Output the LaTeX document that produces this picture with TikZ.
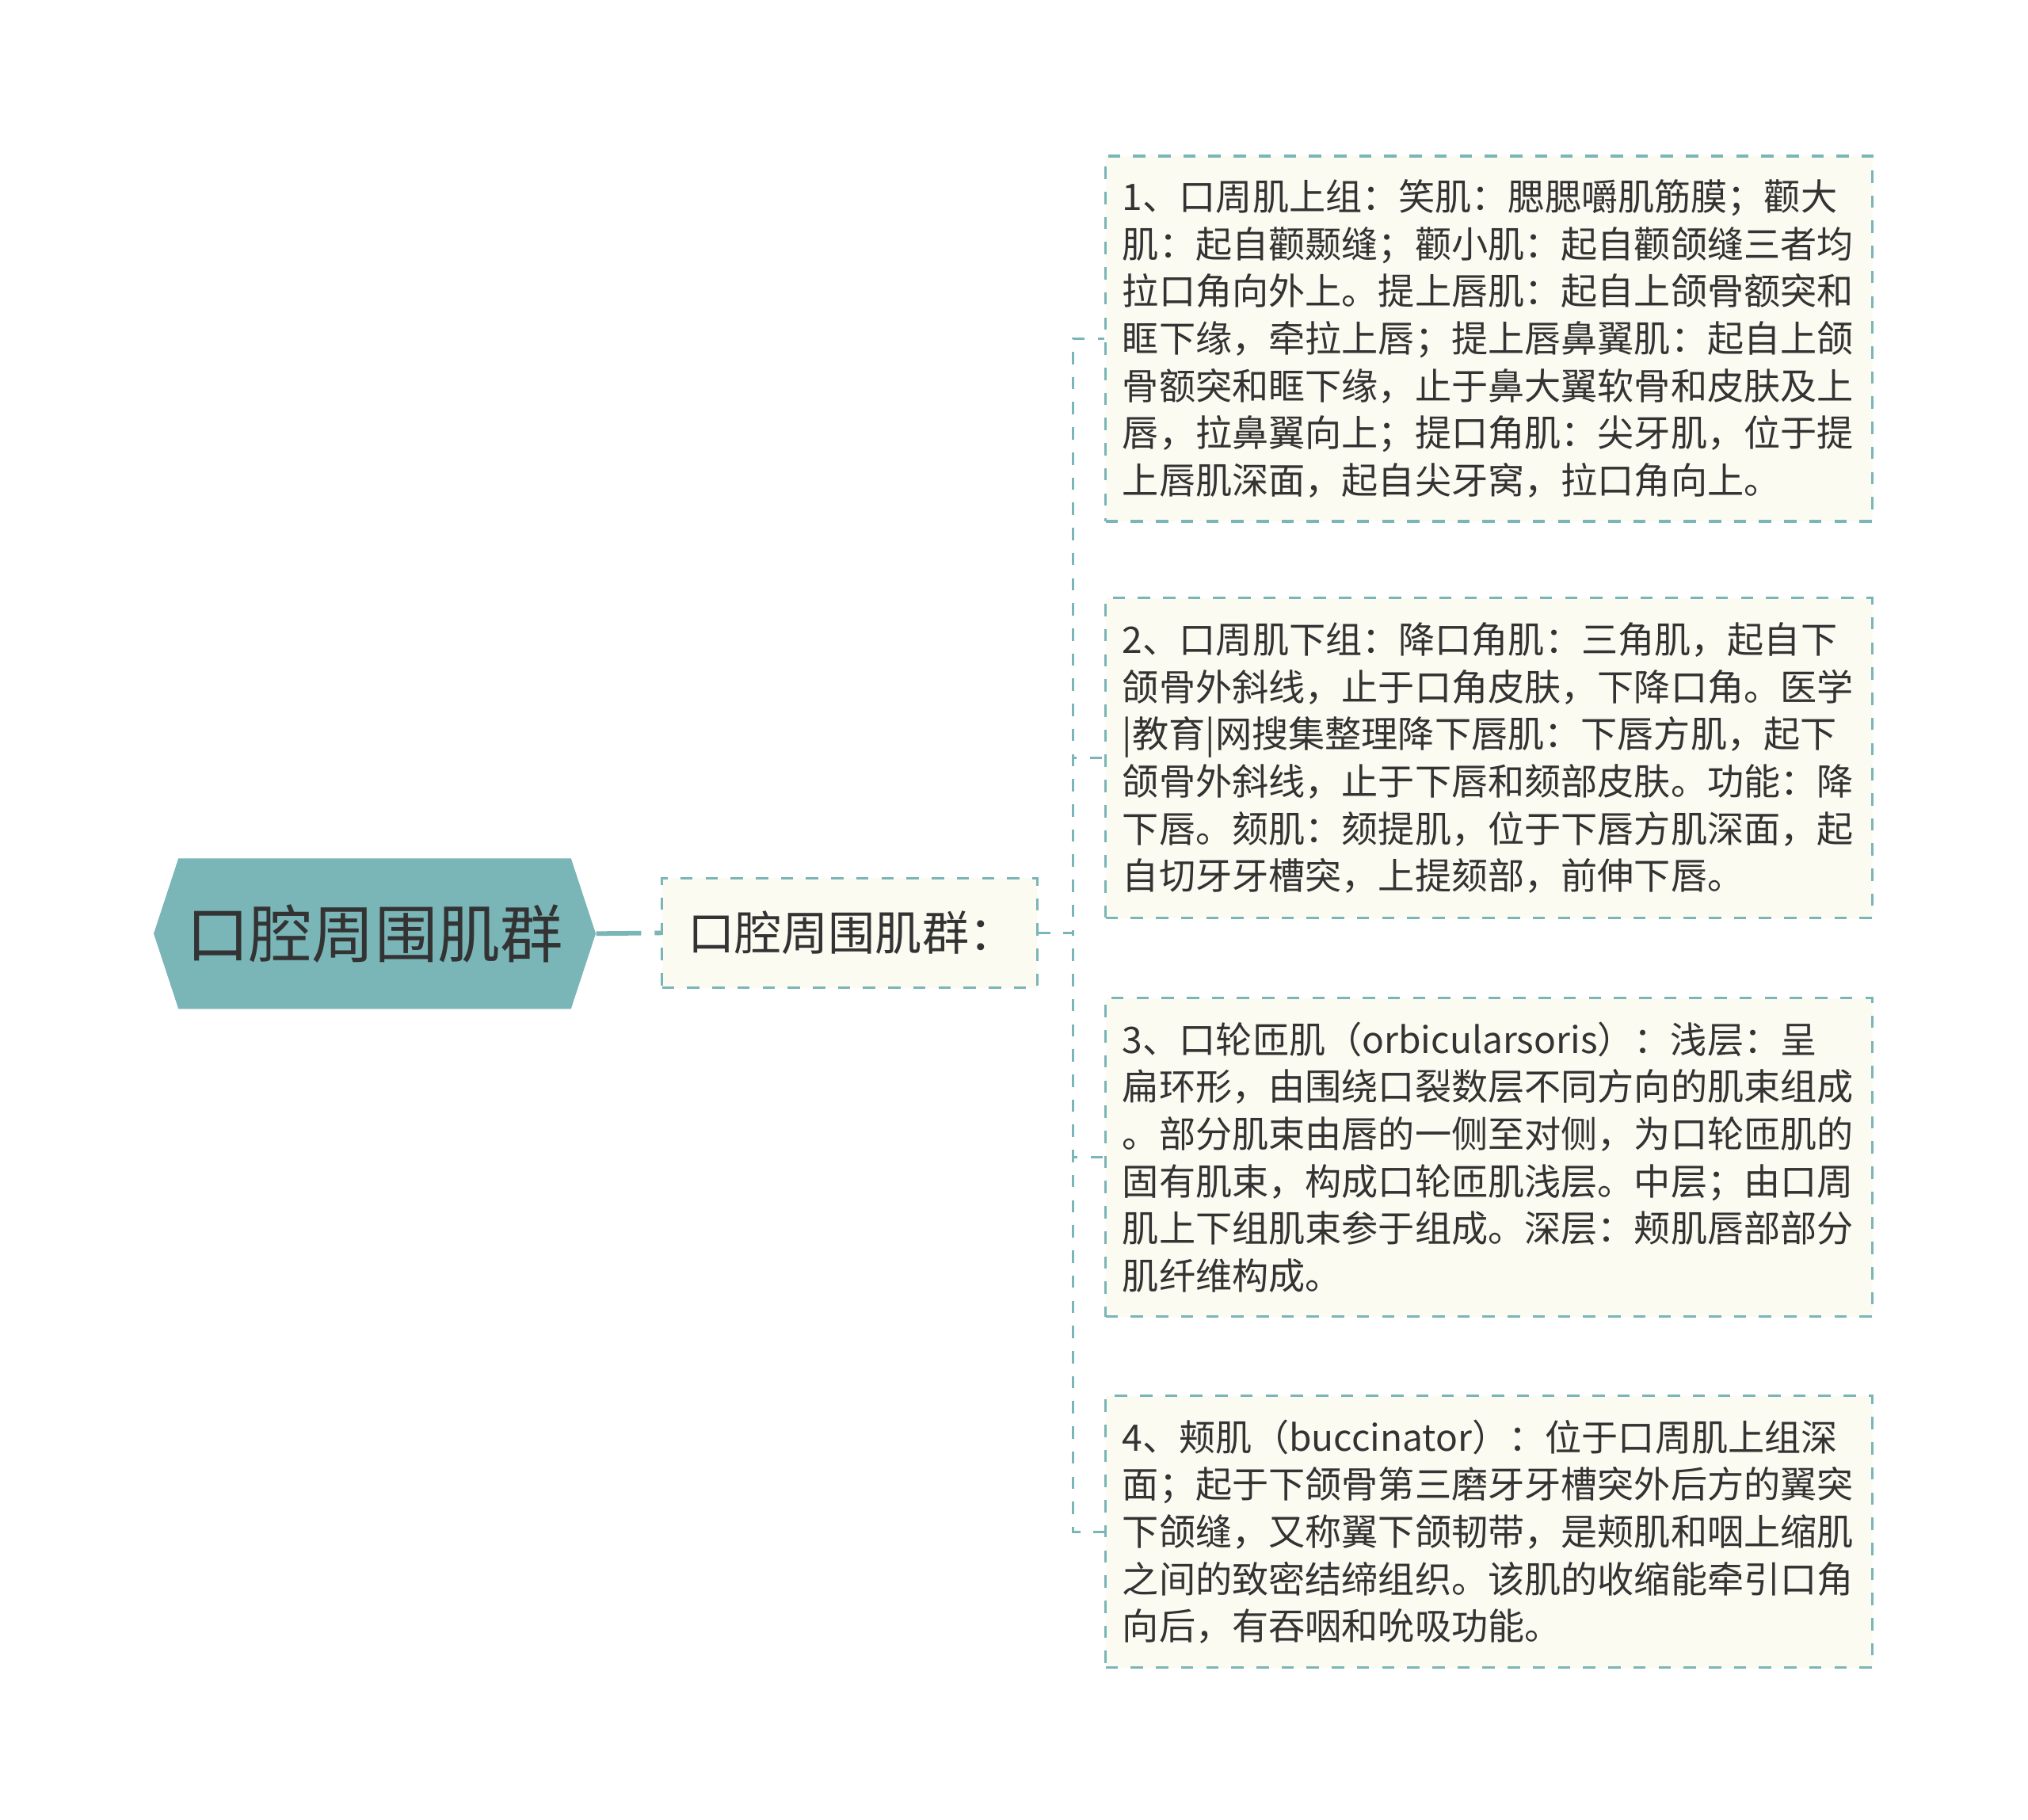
\documentclass[tikz,border=0pt]{standalone}
\usepackage{fontspec}
\setmainfont{Noto Sans CJK SC}
\usepackage{tikz}
\usetikzlibrary{shapes.symbols}
\definecolor{edge}{HTML}{7AB5B8}
\definecolor{paper}{HTML}{FCFBF2}
\definecolor{ink}{HTML}{333333}
\tikzset{
  root/.style={shape=signal, signal to=west and east, signal pointer angle=143.6,
    fill=edge, text=ink, minimum width=6.8cm, minimum height=2.316cm, inner sep=0pt,
    font=\fontsize{27.5pt}{32pt}\selectfont},
  sub/.style={draw=edge, line width=1.1pt, dash pattern=on 5.4pt off 5.6pt, fill=paper,
    text=ink, text width=4.97cm, minimum height=1.69cm, inner xsep=0.4cm,
    font=\fontsize{20.5pt}{24pt}\selectfont},
  leaf/.style={draw=edge, line width=1.1pt, dash pattern=on 5.4pt off 5.6pt, fill=paper,
    text=ink, anchor=west, align=left, text width=11.28cm, inner xsep=0.26cm, inner ysep=0pt,
    font=\fontsize{16pt}{20.7pt}\selectfont},
  trunk/.style={draw=edge, line width=2pt},
  link/.style={draw=edge, line width=1.1pt, dash pattern=on 5.4pt off 5.6pt}
}
\begin{document}
\begin{tikzpicture}
  \fill[white] (0,0) rectangle (31.2,-27.994);
  \useasboundingbox (0,0) rectangle (31.2,-27.994);

  \node[root] (root) at (5.765,-14.36) {口腔周围肌群};
  \node[sub] (sub) at (13.07,-14.35) {口腔周围肌群：};

  % the four groups of muscles
  \node[leaf, minimum height=5.62cm] (l1) at (16.99,-5.21) {1、口周肌上组：笑肌：腮腮嚼肌筋膜；颧大\\
    肌：起自颧颞缝；颧小肌：起自颧颌缝三者均\\
    拉口角向外上。提上唇肌：起自上颌骨额突和\\
    眶下缘，牵拉上唇；提上唇鼻翼肌：起自上颌\\
    骨额突和眶下缘，止于鼻大翼软骨和皮肤及上\\
    唇，拉鼻翼向上；提口角肌：尖牙肌，位于提\\
    上唇肌深面，起自尖牙窝，拉口角向上。};
  \node[leaf, minimum height=4.92cm] (l2) at (16.99,-11.66) {2、口周肌下组：降口角肌：三角肌，起自下\\
    颌骨外斜线，止于口角皮肤，下降口角。医学\\
    |教育|网搜集整理降下唇肌：下唇方肌，起下\\
    颌骨外斜线，止于下唇和颏部皮肤。功能：降\\
    下唇。颏肌：颏提肌，位于下唇方肌深面，起\\
    自切牙牙槽突，上提颏部，前伸下唇。};
  \node[leaf, minimum height=4.9cm] (l3) at (16.99,-17.80) {3、口轮匝肌（orbicularsoris）：浅层：呈\\
    扁环形，由围绕口裂数层不同方向的肌束组成\\
    。部分肌束由唇的一侧至对侧，为口轮匝肌的\\
    固有肌束，构成口轮匝肌浅层。中层；由口周\\
    肌上下组肌束参于组成。深层：颊肌唇部部分\\
    肌纤维构成。};
  \node[leaf, minimum height=4.18cm] (l4) at (16.99,-23.56) {4、颊肌（buccinator）：位于口周肌上组深\\
    面；起于下颌骨第三磨牙牙槽突外后方的翼突\\
    下颌缝，又称翼下颌韧带，是颊肌和咽上缩肌\\
    之间的致密结缔组织。该肌的收缩能牵引口角\\
    向后，有吞咽和吮吸功能。};

  \draw[trunk, dash pattern=on 19.7pt off 5.9pt on 20pt off 0pt] (root.east) -- (sub.west);
  \foreach \n in {l1,l2,l3,l4}
    \draw[link] (sub.east) -- ++(0.53,0) |- (\n.west);
\end{tikzpicture}
\end{document}
